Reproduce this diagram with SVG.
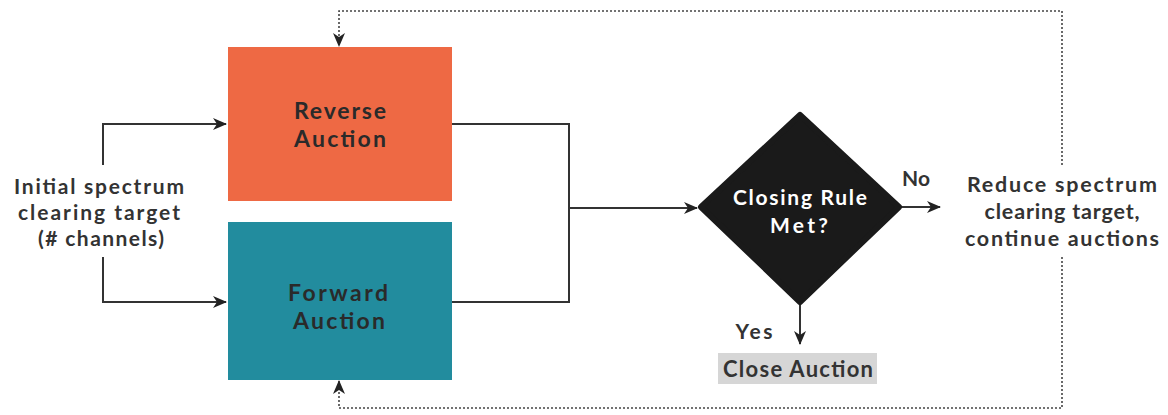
<svg xmlns="http://www.w3.org/2000/svg" width="1168" height="415" viewBox="0 0 1168 415">
<defs>
<marker id="arr" viewBox="0 0 14 12" refX="13" refY="6" markerWidth="14" markerHeight="12" markerUnits="userSpaceOnUse" orient="auto">
<path d="M0,0 L14,6 L0,12 L4,6 z" fill="#222"/>
</marker>
</defs>
<style>
.lbl{font-family:Lato,"Open Sans","Liberation Sans",sans-serif;font-weight:700;fill:#333;text-anchor:middle}
.box{font-family:Lato,"Open Sans","Liberation Sans",sans-serif;font-weight:700;font-size:23px;fill:#2a2a2a;text-anchor:middle}
.con{fill:none;stroke:#333;stroke-width:2}
.dot{fill:none;stroke:#444;stroke-width:1.6;stroke-dasharray:2 2}
</style>
<rect width="1168" height="415" fill="#fff"/>
<g id="connectors">
<polyline class="con" points="103,165 103,124 226,124" marker-end="url(#arr)"/>
<polyline class="con" points="103,257 103,302 226,302" marker-end="url(#arr)"/>
<polyline class="con" points="452,124 569,124 569,302 452,302"/>
<polyline class="con" points="569,208 697,208" marker-end="url(#arr)"/>
<polyline class="con" points="902,207 940,207" marker-end="url(#arr)"/>
<polyline class="con" points="800,305 800,344" marker-end="url(#arr)"/>
<polyline class="dot" points="1062,165 1062,11 339,11 339,46" marker-end="url(#arr)"/>
<polyline class="dot" points="1062,257 1062,408 339,408 339,381" marker-end="url(#arr)"/>
</g>
<g id="input">
<text class="lbl" font-size="21" x="99" y="194" textLength="170">Initial spectrum</text>
<text class="lbl" font-size="21" x="99" y="220" textLength="162">clearing target</text>
<text class="lbl" font-size="21" x="101" y="246" textLength="126">(# channels)</text>
</g>
<g id="reverse">
<rect x="228" y="47" width="224" height="154" fill="#EE6944"/>
<text class="box" x="340" y="119" textLength="92">Reverse</text>
<text class="box" x="340" y="147" textLength="92">Auction</text>
</g>
<g id="forward">
<rect x="228" y="222" width="224" height="158" fill="#228C9E"/>
<text class="box" x="338" y="301" textLength="100">Forward</text>
<text class="box" x="339" y="329" textLength="92">Auction</text>
</g>
<g id="decision">
<path d="M800,115 L899,207 L800,302 L701,207 Z" fill="#1a1a1a" stroke="#1a1a1a" stroke-width="6" stroke-linejoin="round"/>
<text class="lbl" font-size="21" x="800" y="205" textLength="134" style="fill:#fff">Closing Rule</text>
<text class="lbl" font-size="21" x="799" y="233" textLength="58" style="fill:#fff">Met?</text>
</g>
<g id="no-label">
<text class="lbl" font-size="21" x="916" y="186" textLength="28">No</text>
</g>
<g id="reduce">
<text class="lbl" font-size="21.5" x="1062" y="192" textLength="190">Reduce spectrum</text>
<text class="lbl" font-size="21.5" x="1062" y="219" textLength="155">clearing target,</text>
<text class="lbl" font-size="21.5" x="1062" y="246" textLength="194">continue auctions</text>
</g>
<g id="yes-label">
<text class="lbl" font-size="21" x="754" y="339" textLength="37">Yes</text>
</g>
<g id="close">
<rect x="718" y="353" width="159" height="31" fill="#D6D6D6"/>
<text class="lbl" font-size="22" x="798" y="377" textLength="150">Close Auction</text>
</g>
</svg>
